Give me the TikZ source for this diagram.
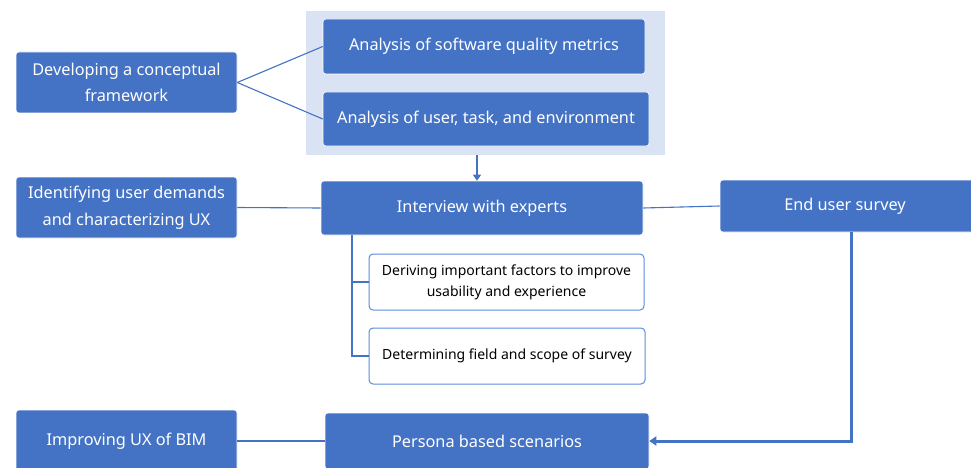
\documentclass[tikz,border=0pt]{standalone}
\usepackage{fontspec}
\setmainfont{Noto Sans}
\usetikzlibrary{arrows.meta}
\definecolor{bblue}{HTML}{4472C4}
\definecolor{panelc}{HTML}{DAE3F3}
\definecolor{lborder}{HTML}{5B8BDB}
\begin{document}
\begin{tikzpicture}[x=1pt,y=-1pt,
  bluebox/.style={draw=white, line width=0.6pt, fill=bblue, rounded corners=3pt, text=white, align=center, inner sep=0pt, font=\fontsize{16.3}{26.5}\selectfont},
  whitebox/.style={draw=lborder, line width=1pt, fill=white, rounded corners=4pt, text=black, align=center, inner sep=0pt, font=\fontsize{14}{21}\selectfont},
  conn/.style={draw=bblue, line width=1.1pt},
  thick arrow/.style={draw=bblue, line width=3pt, -{Triangle[length=7pt,width=9pt]}}]
\useasboundingbox (0,0) rectangle (971,468);
\fill[white] (0,0) rectangle (971,468);
\node[fill=panelc, minimum width=359pt, minimum height=144pt, inner sep=0pt] (panel) at (485.5,83) {};
\node[bluebox, minimum width=221pt, minimum height=61pt] (dev) at (126.5,82.5) {Developing a conceptual\\framework};
\node[bluebox, minimum width=322pt, minimum height=55pt] (a1) at (484,46.5) {Analysis of software quality metrics};
\node[bluebox, minimum width=326pt, minimum height=54pt] (a2) at (486,119) {Analysis of user, task, and environment};
\node[bluebox, minimum width=221pt, minimum height=61pt] (ident) at (126.5,207.5) {Identifying user demands\\and characterizing UX};
\node[bluebox, minimum width=322pt, minimum height=54pt] (inter) at (482,208) {Interview with experts};
\node[bluebox, minimum width=258pt, minimum height=52pt] (end) at (849,206) {\hspace*{-8pt}End user survey};
\node[whitebox, minimum width=275pt, minimum height=56pt] (deriv) at (506.5,282) {Deriving important factors to improve\\usability and experience};
\node[whitebox, minimum width=276pt, minimum height=56pt] (determ) at (507,356) {Determining field and scope of survey};
\node[bluebox, minimum width=221pt, minimum height=62pt] (improv) at (126.5,441) {Improving UX of BIM};
\node[bluebox, minimum width=324pt, minimum height=56pt] (persona) at (487,441) {Persona based scenarios};
% connectors
\draw[conn] (dev.east) -- (a1.west);
\draw[conn] (dev.east) -- (a2.west);
\draw[conn] (ident.east) -- (inter.west);
\draw[conn] (inter.east) -- (end.west);
\draw[conn] (improv.east) -- (persona.west);
\coordinate (tt) at (352,0);
\draw[conn] (inter.south -| tt) |- (deriv.west);
\draw[conn] (inter.south -| tt) |- (determ.west);
\coordinate (ax) at (477,0);
\draw[draw=bblue, line width=2.6pt, -{Triangle[length=6pt,width=8pt]}] (panel.south -| ax) -- (inter.north -| ax);
\coordinate (sx) at (851,0);
\draw[thick arrow] (end.south -| sx) |- (persona.east);
\end{tikzpicture}
\end{document}
